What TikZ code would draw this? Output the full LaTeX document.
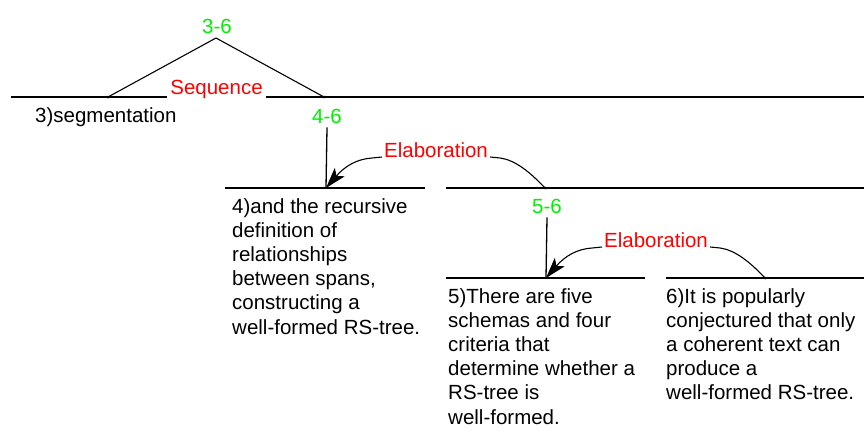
\documentclass[tikz,border=0pt]{standalone}
\usepackage{fontspec}
\setmainfont{Liberation Sans}
\usetikzlibrary{arrows.meta}
\definecolor{spangreen}{RGB}{0,240,0}
\definecolor{relred}{RGB}{255,0,0}
\begin{document}
\begin{tikzpicture}[x=1pt,y=-1pt,
  font=\fontsize{20.5}{24.2}\selectfont,
  tree/.style={line width=1.3pt},
  span/.style={text=spangreen, inner sep=0pt, anchor=base},
  rel/.style={text=relred, inner sep=0pt, anchor=base west},
  seg/.style={inner sep=0pt, anchor=base west, align=left},
  arr/.style={line width=1.1pt, -{Stealth[length=21pt,width=13pt,inset=5pt]}},
  link/.style={line width=1.1pt}]
\useasboundingbox[fill=white] (0,0) rectangle (864,434);

% ---------- level 0: Sequence 3-6 ----------
\node[span] (n36) at (217,33) {3-6};
\coordinate (apex) at (216,38);
\coordinate (segL) at (108,97);
\coordinate (segR) at (324,97);
\node[text=relred, inner sep=0pt, anchor=base] (seq) at (216.5,94) {Sequence};
\coordinate (l0a) at (11,97);
\coordinate (l0b) at (167,97);
\coordinate (l0c) at (266,97);
\coordinate (l0d) at (864,97);
\draw[tree] (l0a) -- (l0b);
\draw[tree] (l0c) -- (l0d);
\draw[link] (segL) -- (apex) -- (segR);
\fill (segL) circle (1.5pt);
\fill (segR) circle (1.5pt);

\node[seg] (s3) at (35,122) {3)segmentation};
\node[span] (n46) at (327,123) {4-6};

% ---------- level 1: Elaboration 4-6 ----------
\coordinate (nuc1) at (326,188);
\coordinate (sat1) at (545,188);
\draw[tree] (n46.south) ++(0,4) -- (nuc1);
\coordinate (l1a) at (225,188);
\coordinate (l1b) at (425,188);
\coordinate (l1c) at (446,188);
\coordinate (l1d) at (864,188);
\draw[tree] (l1a) -- (l1b);
\draw[tree] (l1c) -- (l1d);
\node[rel] (el1) at (384,157) {Elaboration};
\draw[arr] ([xshift=-2pt]el1.base west) -- ++(-10,1)
  .. controls (357,159) and (345,166) .. (nuc1);
\draw[link] ([xshift=2pt]el1.base east) -- ++(10,1)
  .. controls (515,160) and (530,172) .. (sat1);
\fill (sat1) circle (1.5pt);

\node[seg] (s4) at (232,213) {\begin{tabular}[t]{@{}l@{}}4)and the recursive\\definition of\\relationships\\between spans,\\constructing a\\well-formed RS-tree.\end{tabular}};

\node[span] (n56) at (547,213) {5-6};

% ---------- level 2: Elaboration 5-6 ----------
\coordinate (nuc2) at (546,278);
\coordinate (sat2) at (765,278);
\draw[tree] (n56.south) ++(0,4) -- (nuc2);
\coordinate (l2a) at (446,278);
\coordinate (l2b) at (645,278);
\coordinate (l2c) at (666,278);
\coordinate (l2d) at (864,278);
\draw[tree] (l2a) -- (l2b);
\draw[tree] (l2c) -- (l2d);
\node[rel] (el2) at (604,247) {Elaboration};
\draw[arr] ([xshift=-2pt]el2.base west) -- ++(-10,1)
  .. controls (577,249) and (565,256) .. (nuc2);
\draw[link] ([xshift=2pt]el2.base east) -- ++(10,1)
  .. controls (735,250) and (750,262) .. (sat2);
\fill (sat2) circle (1.5pt);

\node[seg] (s5) at (448,303) {\begin{tabular}[t]{@{}l@{}}5)There are five\\schemas and four\\criteria that\\determine whether a\\RS-tree is\\well-formed.\end{tabular}};
\node[seg] (s6) at (666,303) {\begin{tabular}[t]{@{}l@{}}6)It is popularly\\conjectured that only\\a coherent text can\\produce a\\well-formed RS-tree.\end{tabular}};
\end{tikzpicture}
\end{document}
